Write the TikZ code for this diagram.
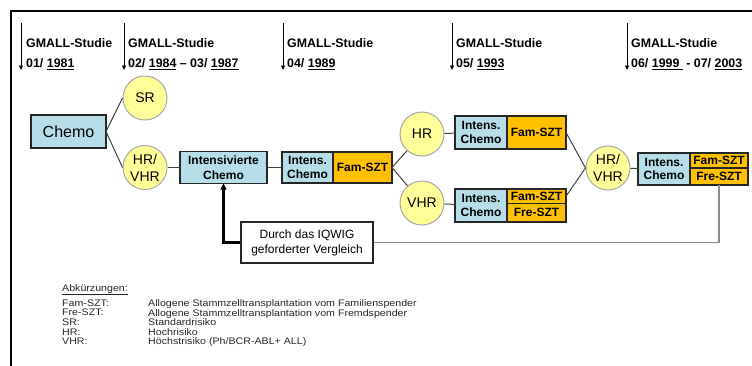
\documentclass[tikz,border=0pt]{standalone}
\usepackage{fontspec}
\setmainfont{Liberation Sans}
\newfontfamily\legendfont[FakeStretch=1.12]{Liberation Sans}
\usepackage{tikz}
\usetikzlibrary{arrows.meta, positioning}
\definecolor{chemoblue}{HTML}{B7DEE8}
\definecolor{sztorange}{HTML}{FFC000}
\definecolor{riskyellow}{HTML}{FFFF99}
\definecolor{riskgray}{HTML}{A6A6A6}
\definecolor{boxline}{HTML}{262626}
\definecolor{linkgray}{HTML}{404040}
\definecolor{backgray}{HTML}{8C8C8C}
\definecolor{legendtext}{HTML}{262626}
\tikzstyle{chemobox} = [rectangle, draw=boxline, fill=chemoblue, line width=1.1pt, outer sep=0pt,
  inner sep=1pt, align=center, font=\fontsize{12}{13.5}\selectfont\bfseries]
\tikzstyle{sztbox} = [rectangle, draw=boxline, fill=sztorange, line width=1.1pt, outer sep=0pt,
  inner sep=1pt, align=center, font=\fontsize{12}{13.5}\selectfont\bfseries]
\tikzstyle{riskcircle} = [circle, draw=riskgray, fill=riskyellow, line width=1pt, minimum size=44pt,
  inner sep=0pt, align=center, font=\fontsize{14}{17}\selectfont]
\tikzstyle{studytext} = [anchor=north west, inner sep=0pt, align=left, font=\fontsize{12.4}{20}\selectfont\bfseries]
\tikzstyle{legend} = [anchor=north west, inner sep=0pt, align=left, text=legendtext,
  font=\legendfont\fontsize{9.5}{9.6}\selectfont]
\tikzstyle{link} = [draw=linkgray, line width=1pt]
\tikzstyle{timearrow} = [line width=0.7pt, -{Triangle[length=4.5pt, width=4pt]}]
\tikzstyle{arrow} = [line width=2.2pt, -{Triangle[length=6pt, width=6pt]}]
\tikzstyle{backline} = [draw=backgray, line width=1.8pt]

\begin{document}
\begin{tikzpicture}[x=1pt, y=-1pt]
  \useasboundingbox (0,0) rectangle (752,365);
  % Frame
  \draw[line width=2pt] (10.5,370) |- (760,10.5);

  % Study timeline
  \foreach \xpos/\name in {21/t1, 124/t2, 283/t3, 452/t4, 627/t5} {
    \coordinate (\name top) at (\xpos,23);
    \coordinate (\name bot) at (\xpos,70);
    \draw[timearrow] (\name top) -- (\name bot);
  }
  \node (s1) [studytext] at (26,38.4) {GMALL-Studie\\01/ \underline{1981}};
  \node (s2) [studytext] at (128,38.4) {GMALL-Studie\\02/ \underline{1984} -- 03/ \underline{1987}};
  \node (s3) [studytext] at (287,38.4) {GMALL-Studie\\04/ \underline{1989}};
  \node (s4) [studytext] at (456,38.4) {GMALL-Studie\\05/ \underline{1993}};
  \node (s5) [studytext] at (631,38.4) {GMALL-Studie\\06/ \underline{1999\ } - 07/ \underline{2003}};

  % Start
  \node (chemo) [chemobox, minimum width=75pt, minimum height=33pt, font=\fontsize{16}{18}\selectfont]
    at (68.5,131.5) {Chemo};
  \node (sr) [riskcircle] at (145,98) {SR};
  \node (hrvhr1) [riskcircle] at (145,167.5) {HR/\\VHR};

  % First risk path
  \node (intens) [chemobox, minimum width=87pt, minimum height=32pt, font=\fontsize{12}{14.5}\selectfont\bfseries]
    at (223.5,167.5) {Intensivierte\\Chemo};
  \node (ic1) [chemobox, anchor=west, minimum width=51pt, minimum height=31pt] at (282,167.5) {Intens.\\Chemo};
  \node (fam1) [sztbox, right=0pt of ic1, minimum width=59pt, minimum height=31pt] {Fam-SZT};

  % HR and VHR
  \node (hr) [riskcircle] at (422,134) {HR};
  \node (vhr) [riskcircle] at (422,203) {VHR};
  \node (ic2) [chemobox, anchor=west, minimum width=52pt, minimum height=33pt] at (455,132.5) {Intens.\\Chemo};
  \node (fam2) [sztbox, right=0pt of ic2, minimum width=59pt, minimum height=33pt] {Fam-SZT};
  \node (ic3) [chemobox, anchor=west, minimum width=52pt, minimum height=33pt] at (455,205.5) {Intens.\\Chemo};
  \node (fam3) [sztbox, anchor=north west, minimum width=59pt, minimum height=14.5pt, inner sep=0pt]
    at (ic3.north east) {Fam-SZT};
  \node (fre3) [sztbox, anchor=north west, minimum width=59pt, minimum height=18.5pt, inner sep=0pt]
    at (fam3.south west) {Fre-SZT};

  % Last study
  \node (hrvhr2) [riskcircle] at (608,168) {HR/\\VHR};
  \node (ic4) [chemobox, anchor=west, minimum width=52pt, minimum height=32pt] at (638,169) {Intens.\\Chemo};
  \node (fam4) [sztbox, anchor=north west, minimum width=58pt, minimum height=15pt, inner sep=0pt]
    at (ic4.north east) {Fam-SZT};
  \node (fre4) [sztbox, anchor=north west, minimum width=58pt, minimum height=17pt, inner sep=0pt]
    at (fam4.south west) {Fre-SZT};

  % Comparison
  \node (iqwig) [rectangle, draw=boxline, fill=white, line width=1.1pt, minimum width=132pt, minimum height=41pt,
    align=center, font=\fontsize{12}{15}\selectfont] at (307,242.5) {Durch das IQWIG\\geforderter Vergleich};

  % Legend
  \node (legtitle) [legend] at (62,284) {\underline{Abkürzungen:}};
  \node (legkeys) [legend] at (62,299.5) {Fam-SZT:\\Fre-SZT:\\SR:\\HR:\\VHR:};
  \node (legdesc) [legend] at (148,299.5)
    {Allogene Stammzelltransplantation vom Familienspender\\Allogene Stammzelltransplantation vom Fremdspender\\Standardrisiko\\Hochrisiko\\Höchstrisiko (Ph/BCR-ABL+ ALL)};

  \draw[link] (chemo.east) -- (sr.west);
  \draw[link] (chemo.east) -- (hrvhr1.west);
  \draw[link] (hrvhr1) -- (intens);
  \draw[link] (intens) -- (ic1);
  \draw[link] (fam1.east) -- (hr);
  \draw[link] (fam1.east) -- (vhr);
  \draw[link] (hr) -- (ic2);
  \draw[link] (vhr) -- (ic3);
  \draw[link] (fam2.east) -- (hrvhr2.west);
  \draw[link] (fam3.east) -- (hrvhr2.west);
  \draw[link] (hrvhr2) -- (ic4);
  \draw[backline] (fre4.south) |- (iqwig.east);
  \draw[arrow] (iqwig.west) -| (intens.south);
\end{tikzpicture}
\end{document}
